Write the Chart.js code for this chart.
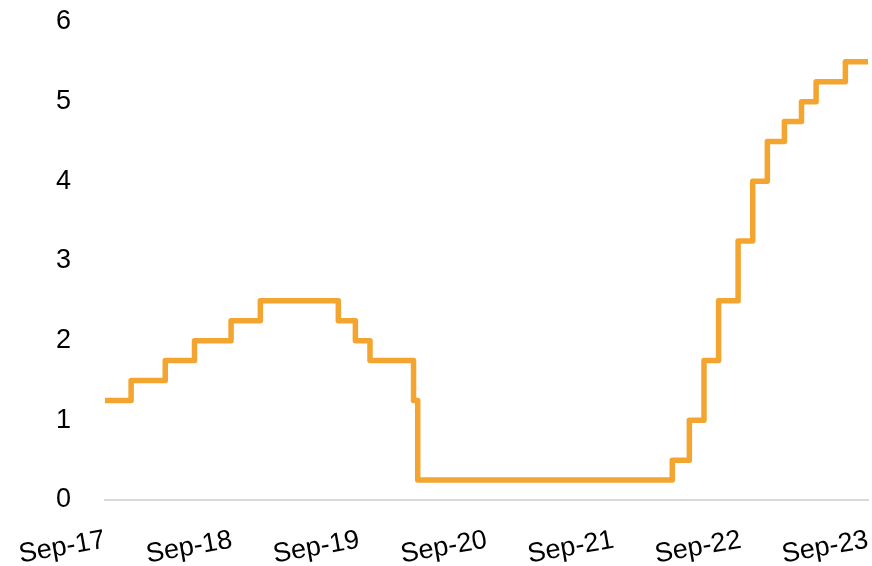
<!DOCTYPE html>
<html>
<head>
<meta charset="utf-8">
<script src="https://cdn.jsdelivr.net/npm/chart.js@4/dist/chart.umd.min.js"></script>
<style>
  html, body { margin: 0; padding: 0; background: #fff; }
</style>
</head>
<body>
<canvas id="rateChart" width="872" height="566"></canvas>
<script>
// policy rate (upper bound): date each level took effect, and the level
const changeDates = ['2017-09-30', '2017-12-14', '2018-03-22', '2018-06-14', '2018-09-27',
  '2018-12-20', '2019-08-01', '2019-09-19', '2019-10-31', '2020-03-04', '2020-03-16',
  '2022-03-17', '2022-05-05', '2022-06-16', '2022-07-28', '2022-09-22', '2022-11-03',
  '2022-12-15', '2023-02-02', '2023-03-23', '2023-05-04', '2023-07-27', '2023-09-30'];
const upperBound = [1.25, 1.5, 1.75, 2.0, 2.25,
  2.5, 2.25, 2.0, 1.75, 1.25, 0.25,
  0.5, 1.0, 1.75, 2.5, 3.25, 4.0,
  4.5, 4.75, 5.0, 5.25, 5.5, 5.5];

const tickDates = ['2017-09-30', '2018-09-30', '2019-09-30', '2020-09-30', '2021-09-30', '2022-09-30', '2023-09-30'];
const tickLabels = ['Sep-17', 'Sep-18', 'Sep-19', 'Sep-20', 'Sep-21', 'Sep-22', 'Sep-23'];

const DAY = 86400000;
const startMs = Date.UTC(2017, 8, 30);
function dayNum(s) {
  const p = s.split('-');
  return (Date.UTC(+p[0], +p[1] - 1, +p[2]) - startMs) / DAY;
}

const points = changeDates.map((d, i) => ({ x: dayNum(d), y: upperBound[i] }));
const labelFont = { family: "'Liberation Sans', Arial, sans-serif", size: 27 };

const ctx = document.getElementById('rateChart').getContext('2d');
new Chart(ctx, {
  type: 'line',
  data: {
    datasets: [{
      label: 'Upper bound',
      data: points,
      stepped: true,
      borderColor: '#F3A530',
      borderWidth: 5.5,
      borderJoinStyle: 'round',
      borderCapStyle: 'round',
      pointRadius: 0,
      fill: false
    }]
  },
  options: {
    responsive: false,
    animation: false,
    devicePixelRatio: 1,
    layout: { autoPadding: false, padding: { top: 22, right: 4, left: 0, bottom: 0 } },
    plugins: {
      legend: { display: false },
      tooltip: { enabled: false }
    },
    scales: {
      x: {
        type: 'linear',
        min: dayNum(tickDates[0]),
        max: dayNum(tickDates[tickDates.length - 1]),
        afterBuildTicks(axis) {
          axis.ticks = tickDates.map(d => ({ value: dayNum(d) }));
        },
        afterFit(scale) {
          scale.height = 66;
          scale.paddingLeft = 0;
          scale.paddingRight = 0;
        },
        ticks: {
          autoSkip: false,
          minRotation: 10,
          maxRotation: 10,
          padding: 16,
          color: '#000',
          font: labelFont,
          callback(value, index) { return tickLabels[index]; }
        },
        grid: { display: false },
        border: { display: true, color: '#D9D9D9', width: 2 }
      },
      y: {
        min: 0,
        max: 6,
        afterFit(scale) {
          scale.width = 105;
          scale.paddingTop = 0;
          scale.paddingBottom = 0;
        },
        ticks: {
          stepSize: 1,
          padding: 26,
          color: '#000',
          font: labelFont
        },
        grid: { display: false },
        border: { display: false }
      }
    }
  }
});
</script>
</body>
</html>
